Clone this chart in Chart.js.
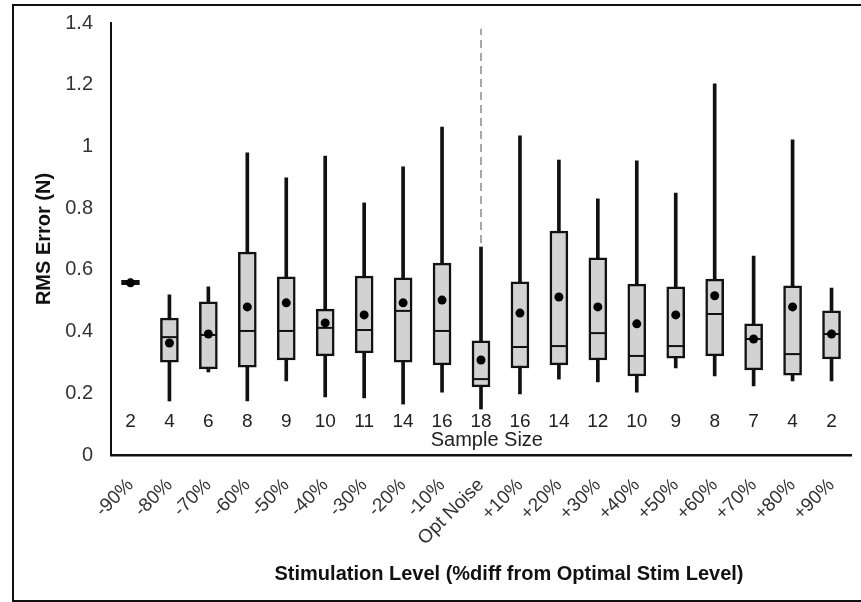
<!DOCTYPE html>
<html>
<head>
<meta charset="utf-8">
<script src="https://cdn.jsdelivr.net/npm/chart.js@4/dist/chart.umd.min.js"></script>
<style>
    html, body { margin: 0; padding: 0; background: #fff; overflow: hidden; }
    #wrap { position: relative; width: 861px; height: 602px; }
    #frame {
        position: absolute; left: 12px; top: 4px; width: 900px; height: 598px;
        box-sizing: border-box; border: 2px solid #111;
    }
    #chart { position: absolute; left: 0; top: 0; }
</style>
</head>
<body>
<div id="wrap">
    <div id="frame"></div>
    <canvas id="chart" width="861" height="602"></canvas>
</div>
<script>
// Box plot of RMS error per stimulation level
const labels = ['-90%', '-80%', '-70%', '-60%', '-50%', '-40%', '-30%', '-20%', '-10%', 'Opt Noise',
    '+10%', '+20%', '+30%', '+40%', '+50%', '+60%', '+70%', '+80%', '+90%'];
const sampleSize = [2, 4, 6, 8, 9, 10, 11, 14, 16, 18, 16, 14, 12, 10, 9, 8, 7, 4, 2];

const whiskerMin = [0.548, 0.175, 0.269, 0.175, 0.240, 0.188, 0.185, 0.165, 0.204, 0.149,
    0.198, 0.246, 0.237, 0.204, 0.282, 0.256, 0.224, 0.240, 0.240];
const q1 = [0.552, 0.301, 0.279, 0.285, 0.308, 0.321, 0.331, 0.301, 0.292, 0.221,
    0.282, 0.292, 0.308, 0.256, 0.314, 0.321, 0.276, 0.259, 0.311];
const median = [0.558, 0.382, 0.389, 0.402, 0.402, 0.412, 0.405, 0.467, 0.402, 0.246,
    0.350, 0.353, 0.395, 0.321, 0.353, 0.457, 0.376, 0.327, 0.392];
const q3 = [0.566, 0.444, 0.496, 0.658, 0.577, 0.473, 0.580, 0.574, 0.622, 0.370,
    0.561, 0.726, 0.639, 0.554, 0.545, 0.570, 0.425, 0.548, 0.467];
const whiskerMax = [0.570, 0.519, 0.545, 0.979, 0.898, 0.969, 0.817, 0.934, 1.063, 0.674,
    1.034, 0.956, 0.830, 0.953, 0.849, 1.203, 0.645, 1.021, 0.541];
const mean = [0.558, 0.363, 0.392, 0.480, 0.493, 0.428, 0.454, 0.493, 0.502, 0.308,
    0.460, 0.512, 0.480, 0.425, 0.454, 0.516, 0.376, 0.480, 0.392];

// dashed separator at the optimal level
const dividerAt = 'Opt Noise';
const dividerRange = [0.687, 1.381];
const sampleSizeY = 0.108;       // height of the sample size row
const sampleCaptionY = 0.047;

const FONT = "'Liberation Sans', Arial, sans-serif";

const overlay = {
    id: 'overlay',
    afterDatasetsDraw(chart) {
        const { ctx, scales: { x, y }, chartArea } = chart;
        ctx.save();
        ctx.fillStyle = '#222';
        ctx.textAlign = 'center';
        ctx.textBaseline = 'middle';
        ctx.font = '19px ' + FONT;
        sampleSize.forEach((n, i) => {
            ctx.fillText(String(n), x.getPixelForValue(i), y.getPixelForValue(sampleSizeY));
        });
        ctx.font = '20px ' + FONT;
        ctx.fillText('Sample Size', x.getPixelForValue(9.15), y.getPixelForValue(sampleCaptionY));

        // x axis title, placed a bit right of centre like the original
        ctx.fillStyle = '#111';
        ctx.font = 'bold 20px ' + FONT;
        ctx.fillText('Stimulation Level (%diff from Optimal Stim Level)',
            (chartArea.left + chartArea.right) / 2 + 28, 574);
        ctx.restore();
    }
};

new Chart(document.getElementById('chart'), {
    type: 'bar',
    data: {
        labels: labels,
        datasets: [
            {
                label: 'divider',
                type: 'line',
                data: dividerRange.map(v => ({ x: dividerAt, y: v })),
                borderColor: '#a8a8a8',
                borderWidth: 2,
                borderDash: [8, 5],
                pointRadius: 0,
                order: 5
            },
            {
                label: 'whisker',
                data: labels.map((_, i) => [whiskerMin[i], whiskerMax[i]]),
                backgroundColor: '#111',
                barThickness: 3,
                grouped: false,
                order: 4
            },
            {
                label: 'box',
                data: labels.map((_, i) => [q1[i], q3[i]]),
                backgroundColor: '#d2d2d2',
                borderColor: '#111',
                borderWidth: 2.5,
                borderSkipped: false,
                barThickness: 18,
                grouped: false,
                order: 3
            },
            {
                label: 'median',
                type: 'line',
                data: median,
                showLine: false,
                pointStyle: 'line',
                pointRadius: 8,
                pointBorderWidth: 2,
                pointBorderColor: '#111',
                order: 2
            },
            {
                label: 'mean',
                type: 'line',
                data: mean,
                showLine: false,
                pointStyle: 'circle',
                pointRadius: 4.5,
                pointBorderWidth: 0,
                pointBackgroundColor: '#000',
                order: 1
            }
        ]
    },
    options: {
        responsive: false,
        animation: false,
        layout: { padding: { left: 0, top: 23, right: 1, bottom: 0 } },
        plugins: {
            legend: { display: false },
            tooltip: { enabled: false }
        },
        scales: {
            x: {
                grid: { display: false, drawTicks: false },
                border: { display: true, color: '#111', width: 2.5 },
                ticks: {
                    autoSkip: false,
                    minRotation: 45,
                    maxRotation: 45,
                    padding: 19,
                    color: '#333',
                    font: { family: FONT, size: 19 }
                },
                afterFit: s => { s.height = 147; s.paddingLeft = 0; s.paddingRight = 0; }
            },
            y: {
                min: 0,
                max: 1.4,
                grid: { display: false, drawTicks: false },
                border: { display: true, color: '#111', width: 2 },
                ticks: {
                    stepSize: 0.2,
                    padding: 18,
                    color: '#333',
                    font: { family: FONT, size: 20 },
                    callback: v => String(+v.toFixed(1))
                },
                title: {
                    display: true,
                    text: 'RMS Error (N)',
                    color: '#111',
                    font: { family: FONT, size: 20, weight: 'bold' },
                    padding: { top: 32, bottom: 0 }
                },
                afterFit: s => { s.width = 111; s.paddingTop = 0; s.paddingBottom = 0; }
            }
        }
    },
    plugins: [overlay]
});
</script>
</body>
</html>
